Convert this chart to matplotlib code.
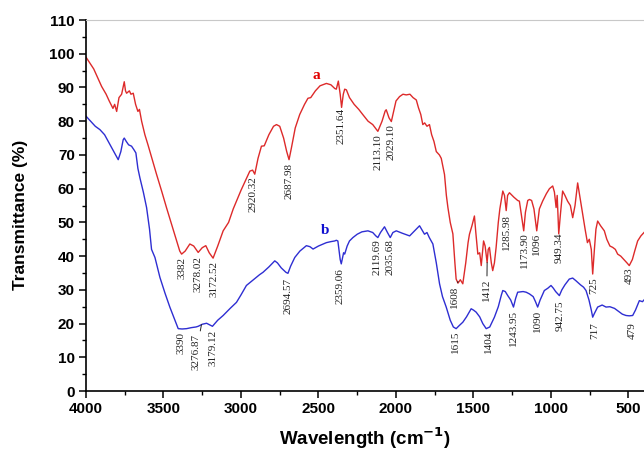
import matplotlib
matplotlib.use('Agg')
import matplotlib.pyplot as plt
from matplotlib.ticker import MultipleLocator

# spectrum a (red)
wn_a = [4000, 3950, 3899, 3870, 3850, 3826, 3815, 3802, 3787, 3770, 3753, 3745, 3738, 3720, 3710,
        3695, 3680, 3665, 3655, 3641, 3620, 3600, 3575, 3545, 3510, 3480, 3445, 3416, 3395, 3383,
        3360, 3330, 3305, 3276, 3250, 3227, 3205, 3180, 3150, 3115, 3080, 3050, 3029, 3000, 2965,
        2943, 2925, 2911, 2890, 2868, 2850, 2820, 2790, 2771, 2750, 2725, 2705, 2690, 2675, 2650,
        2621, 2590, 2568, 2550, 2520, 2490, 2449, 2420, 2395, 2385, 2372, 2360, 2351, 2340, 2331,
        2320, 2300, 2270, 2240, 2213, 2180, 2150, 2117, 2090, 2070, 2063, 2045, 2030, 2015, 2000,
        1977, 1955, 1934, 1910, 1890, 1869, 1855, 1840, 1827, 1815, 1800, 1784, 1770, 1755, 1745,
        1740, 1720, 1708, 1695, 1687, 1675, 1665, 1650, 1633, 1620, 1612, 1600, 1585, 1569, 1550,
        1535, 1526, 1510, 1494, 1485, 1472, 1460, 1450, 1440, 1435, 1425, 1412, 1405, 1397, 1385,
        1376, 1365, 1354, 1340, 1330, 1322, 1311, 1300, 1289, 1280, 1268, 1240, 1215, 1204, 1190,
        1176, 1165, 1150, 1139, 1125, 1110, 1092, 1075, 1054, 1030, 1010, 989, 978, 967, 960,
        950, 940, 925, 910, 893, 875, 860, 845, 828, 815, 796, 780, 765, 753, 740,
        731, 720, 710, 699, 680, 656, 640, 620, 602, 585, 570, 550, 530, 510, 495,
        475, 460, 441, 420, 400]
t_a = [99, 95.5, 90.3, 88, 86, 83.8, 85, 82.9, 87, 88, 91.7, 89, 88.3, 89, 88,
       88.3, 85, 82.9, 83.5, 80, 76, 73, 69, 64.3, 59, 54.3, 49, 44.5, 41.5, 40.6,
       41.5, 43.6, 43, 41.1, 42.5, 43.1, 41, 39.4, 43, 47.5, 50, 54, 56.3, 59.5, 63,
       65.2, 65.5, 64.3, 69, 72.6, 72.7, 76, 78.5, 79, 78.5, 75, 71, 68.6, 72, 78,
       82, 85, 86.8, 87, 89, 90.5, 91.2, 90.8, 89.7, 89.5, 91.9, 88, 84.1, 88, 89.5,
       89.3, 87, 85, 83.5, 81.9, 80, 79, 77, 80, 83, 83.4, 81, 79.9, 83, 86,
       87.3, 88, 87.8, 88, 87, 86.3, 84, 82, 79, 79.5, 78.5, 79, 76, 74, 72,
       71, 70, 69, 66, 64.2, 58, 54.4, 50, 46.6, 38, 33.2, 32, 33, 31.8, 38,
       44, 46.5, 49, 51.9, 47, 40.6, 41, 37.2, 42, 44.5, 43, 38.1, 42, 42.6, 38,
       35.7, 38, 42.6, 50, 54, 56.3, 59.3, 58, 53.5, 58, 58.8, 57.5, 56.5, 56.3, 52,
       47.5, 53, 56.5, 56.8, 56.5, 54, 47.5, 54, 56.3, 58.5, 60, 60.8, 59, 54.4, 58,
       46.6, 52, 59.3, 58, 56.3, 55, 51.4, 55, 61.7, 58, 52.4, 48, 44, 45, 42,
       34.7, 42, 48, 50.4, 49, 47.5, 45, 43, 42.6, 42, 40.6, 40, 39, 38, 37.2,
       39, 41.5, 44.5, 46, 47]

# spectrum b (blue)
wn_b = [4000, 3970, 3940, 3910, 3880, 3850, 3820, 3792, 3775, 3760, 3753, 3740, 3725, 3706, 3690,
        3678, 3665, 3652, 3630, 3609, 3590, 3577, 3555, 3523, 3490, 3459, 3430, 3405, 3380, 3351,
        3320, 3290, 3276, 3250, 3222, 3200, 3184, 3150, 3115, 3070, 3029, 3000, 2965, 2920, 2880,
        2858, 2820, 2782, 2765, 2740, 2710, 2697, 2680, 2653, 2620, 2578, 2555, 2535, 2500, 2470,
        2449, 2420, 2395, 2385, 2375, 2360, 2353, 2345, 2338, 2331, 2315, 2300, 2278, 2250, 2220,
        2181, 2150, 2130, 2117, 2100, 2074, 2055, 2037, 2020, 1998, 1960, 1930, 1912, 1880, 1848,
        1835, 1816, 1800, 1785, 1762, 1740, 1719, 1700, 1676, 1650, 1630, 1612, 1590, 1569, 1545,
        1515, 1500, 1483, 1460, 1440, 1418, 1395, 1365, 1340, 1320, 1311, 1295, 1279, 1260, 1242,
        1228, 1215, 1180, 1160, 1139, 1115, 1100, 1086, 1070, 1043, 1020, 1000, 985, 970, 946,
        930, 910, 882, 860, 839, 810, 790, 774, 755, 740, 731, 720, 699, 670, 645,
        620, 590, 560, 540, 516, 495, 473, 455, 430, 410, 400]
t_b = [81.5, 80, 78.5, 77.5, 76, 73.5, 71, 68.6, 71, 74.5, 75, 74, 73, 72.6, 71.5,
       70.6, 66, 63.2, 59, 54.4, 48, 42, 39.6, 33.7, 29, 24.9, 21.5, 18.5, 18.4, 18.5,
       18.8, 19, 19.2, 19.8, 20.1, 19.6, 19.2, 21, 22.4, 24.5, 26.3, 28.5, 31.3, 33, 34.5,
       35.2, 36.8, 38.6, 38, 36.5, 35.2, 34.9, 37, 39.6, 41.5, 43.1, 42.8, 42.1, 43, 43.6,
       44, 44.3, 44.5, 44.7, 44.5, 39, 37.7, 39.5, 41, 40.6, 43, 44.5, 45.5, 46.5, 47.2,
       47.5, 47, 46, 45.5, 47, 48.7, 47, 45.5, 47, 47.5, 46.8, 46.3, 46, 47.5, 49,
       48, 46.5, 47, 45.5, 43.6, 38, 31.8, 28, 24.9, 21, 19, 18.5, 19.5, 20.4, 22,
       24.4, 24, 23.4, 22, 20, 18.5, 19, 21.9, 25, 28.5, 29.8, 29.5, 28.3, 27, 24.9,
       27.5, 29.3, 29.5, 29.3, 28.8, 28, 26.5, 24.9, 27, 29.8, 30.5, 31.3, 30.5, 29.5, 28.3,
       30, 31.5, 33.2, 33.5, 32.7, 31.5, 30.8, 29.8, 27, 24, 21.9, 23, 24.9, 25.5, 24.9,
       25, 24.5, 23.5, 22.8, 22.4, 22.3, 22.4, 24, 26.8, 26.5, 27]

# peak labels and where their tops sit
peaks_a = ['3382', '3278.02', '3172.52', '2920.32', '2687.98', '2351.64', '2113.10', '2029.10',
           '1285.98', '1173.90', '1096', '949.34', '725', '493']
top_a = [39.6, 40, 38.6, 63.7, 67.6, 84, 76, 79, 52.5, 47, 47, 47, 33.7, 36.7]
peaks_b = ['3390', '3179.12', '2694.57', '2359.06', '2119.69', '2035.68', '1615', '1404',
           '1243.95', '1090', '942.75', '717', '479']
top_b = [17.5, 18, 33.7, 36.3, 45, 45, 18, 18, 23.9, 24, 26.8, 20.4, 20.4]
# labels with a leader line: (text, label x, label top, curve x, curve y)
leaders = [('1608', 1625, 31.3, 1600, 32.5),
           ('1412', 1414, 33.3, 1412, 38.1),
           ('3276.87', 3287, 17, 3255, 19.7)]

red = '#dd2a2a'
blue = '#2e2ed2'

fig = plt.figure(figsize=(6.44, 4.5), dpi=100)
ax = fig.add_axes([0.1335, 0.131, 0.8665, 0.8245])

ax.plot(wn_a, t_a, color=red, lw=1.0)
ax.plot(wn_b, t_b, color=blue, lw=1.0)

lab_font = dict(family='Liberation Serif', fontsize=8, color='#222222',
                rotation=90, ha='center', va='top')
for p, y in zip(peaks_a, top_a):
    ax.text(float(p), y, p, **lab_font)
for p, y in zip(peaks_b, top_b):
    ax.text(float(p), y, p, **lab_font)
for p, lx, ly, cx, cy in leaders:
    ax.annotate(p, xy=(cx, cy), xytext=(lx, ly),
                arrowprops=dict(arrowstyle='-', lw=0.7, color='#222222',
                                shrinkA=0, shrinkB=0), **lab_font)

ax.text(2513, 93.5, 'a', color='#e00000', fontsize=11, fontweight='bold',
        family='Liberation Serif', ha='center', va='center')
ax.text(2460, 47.7, 'b', color='#1010d0', fontsize=11, fontweight='bold',
        family='Liberation Serif', ha='center', va='center')

ax.set_xlim(4000, 400)
ax.set_ylim(0, 110)
ax.xaxis.set_major_locator(MultipleLocator(500))
ax.xaxis.set_minor_locator(MultipleLocator(250))
ax.yaxis.set_major_locator(MultipleLocator(10))
ax.yaxis.set_minor_locator(MultipleLocator(5))
ax.tick_params(which='major', direction='out', length=5, width=1.1, pad=3)
ax.tick_params(which='minor', direction='out', length=3, width=1.0)
for lbl in ax.get_xticklabels() + ax.get_yticklabels():
    lbl.set_family('Liberation Sans')
    lbl.set_fontweight('bold')
    lbl.set_fontsize(11)

ax.spines['right'].set_visible(False)
ax.spines['top'].set_color('#c8c8c8')
ax.spines['left'].set_linewidth(1.2)
ax.spines['bottom'].set_linewidth(1.2)

fig.text(365 / 644, 1 - 438 / 450, 'Wavelength (cm$^{\\mathbf{-1}}$)', ha='center', va='center',
         family='Liberation Sans', fontweight='bold', fontsize=13.5)
fig.text(21 / 644, 1 - 215 / 450, 'Transmittance (%)', rotation=90, ha='center', va='center',
         family='Liberation Sans', fontweight='bold', fontsize=12.5)

fig.savefig('out.png', dpi=100)
